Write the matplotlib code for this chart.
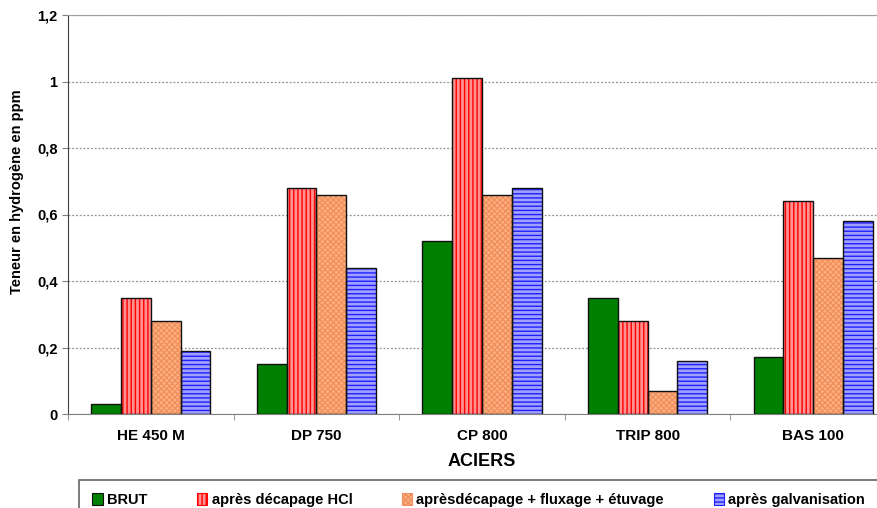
import matplotlib.pyplot as plt
import numpy as np

plt.rcParams['font.family'] = ['Liberation Sans', 'DejaVu Sans']
plt.rcParams['hatch.linewidth'] = 1.0

# data
aciers = ["HE 450 M", "DP 750", "CP 800", "TRIP 800", "BAS 100"]
brut = [0.03, 0.15, 0.52, 0.35, 0.17]
decapage = [0.35, 0.68, 1.01, 0.28, 0.64]
fluxage = [0.28, 0.66, 0.66, 0.07, 0.47]
galva = [0.19, 0.44, 0.68, 0.16, 0.58]
labels = ["BRUT", "après décapage HCl", "aprèsdécapage + fluxage + étuvage",
          "après galvanisation"]
y_ticks = [0, 0.2, 0.4, 0.6, 0.8, 1.0, 1.2]
y_labels = ["0", "0,2", "0,4", "0,6", "0,8", "1", "1,2"]

# (face colour, hatch, hatch colour)
styles = [("#008000", None, None),
          ("#ff9090", "||||", "#ff0000"),
          ("#ffb27f", "xxxxxx", "#f09060"),
          ("#a0a0ff", "----", "#2020ff")]

fig = plt.figure(figsize=(8.77, 5.08), dpi=100)
ax = fig.add_axes([68 / 877, 1 - 414 / 508, 828 / 877, 399 / 508])

x = np.arange(len(aciers))
w = 0.18
series = [brut, decapage, fluxage, galva]
handles = []
for i, (vals, (fc, hatch, hc)) in enumerate(zip(series, styles)):
    pos = x + (i - 1.5) * w
    if hatch:
        ax.bar(pos, vals, w, color=fc, hatch=hatch, edgecolor=hc, linewidth=0, zorder=2)
    ax.bar(pos, vals, w, facecolor="none" if hatch else fc, edgecolor="#111111",
           linewidth=1.0, zorder=3)
    h = plt.Rectangle((0, 0), 1, 1, facecolor=fc, hatch=hatch,
                      edgecolor=hc if hatch else "#111111", linewidth=0.8)
    handles.append(h)

ax.set_xlim(-0.5, len(aciers) - 0.5)
ax.set_ylim(0, 1.2)
ax.set_yticks(y_ticks)
ax.set_yticklabels(y_labels, fontsize=10.5, fontweight="bold")
ax.yaxis.grid(True, linestyle=(0, (1.5, 1.5)), color="#909090", linewidth=0.9, zorder=0)

ax.set_xticks(x)
ax.set_xticklabels(aciers, fontsize=11, fontweight="bold")
ax.tick_params(axis="x", length=0, pad=11)
ax.set_xticks(np.arange(-0.5, len(aciers), 1), minor=True)
ax.tick_params(axis="x", which="minor", length=4, color="#808080")
ax.tick_params(axis="y", length=4, color="#808080")

ax.spines["right"].set_visible(False)
ax.spines["top"].set_color("#a0a0a0")
ax.spines["bottom"].set_color("#808080")
ax.spines["left"].set_color("#404040")

ax.set_xlabel("ACIERS", fontsize=13, fontweight="bold", labelpad=7)
ax.set_ylabel("Teneur en hydrogène en ppm", fontsize=10.5, fontweight="bold")
ax.yaxis.set_label_coords(-0.053, 0.556)

leg = fig.legend(handles, labels, loc="lower left", bbox_to_anchor=(72 / 877, -0.038),
                 ncol=4, frameon=True, fancybox=False, edgecolor="#404040",
                 prop={"weight": "bold", "size": 10.5}, handlelength=0.7,
                 handleheight=0.9, handletextpad=0.3, columnspacing=3.4,
                 borderpad=0.9)
leg.get_frame().set_linewidth(1.2)

fig.savefig("out.png", dpi=100)
